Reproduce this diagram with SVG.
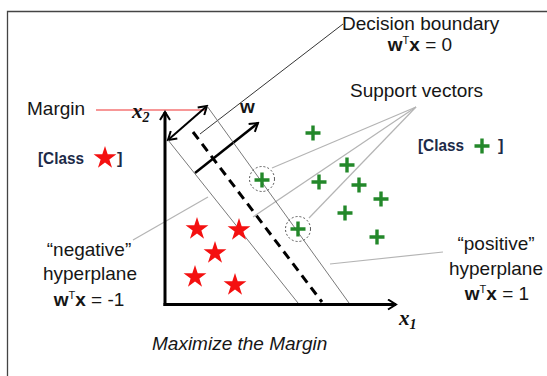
<svg xmlns="http://www.w3.org/2000/svg" width="547" height="376" viewBox="0 0 547 376">
<style>
.t{font-family:"Liberation Sans",Arial,sans-serif;font-size:19px;fill:#161616}
.b{font-weight:bold}
.sup{font-size:11px}
.cls{font-family:"Liberation Sans",Arial,sans-serif;font-size:16.5px;font-weight:bold;fill:#1c2a48}
.ax{font-family:"Liberation Serif","Times New Roman",serif;font-style:italic;font-weight:bold;fill:#111}
.lead{stroke:#b4b4b4;stroke-width:1.2;fill:none}
.hp{stroke:#6a6a6a;stroke-width:0.9;fill:none}
.plus{stroke:#23882a;stroke-width:3.4;fill:none}
.sv{stroke:#555;stroke-width:1;stroke-dasharray:2 2;fill:none}
</style>
<defs>
<path id="star" d="M0,-12 L2.7,-3.72 L11.41,-3.71 L4.37,1.42 L7.05,9.71 L0,4.6 L-7.05,9.71 L-4.37,1.42 L-11.41,-3.71 L-2.7,-3.72 Z" fill="#f41010"/>
<path id="plus" d="M-7.5,0 H7.5 M0,-7.5 V7.5" class="plus"/>
<marker id="ah" viewBox="0 0 12 12" refX="10" refY="6" markerWidth="12" markerHeight="12" markerUnits="userSpaceOnUse" orient="auto-start-reverse">
<path d="M2,1 L10,6 L2,11" fill="none" stroke="#000" stroke-width="2"/>
</marker>
</defs>
<rect width="547" height="376" fill="#fff"/>
<path d="M7.5,376 V11.5 H547" fill="none" stroke="#444" stroke-width="1.3"/>

<g id="connectors">
<line x1="96" y1="110" x2="206" y2="110" stroke="#f03030" stroke-width="1.2"/>
<line x1="343" y1="24" x2="200" y2="134" stroke="#000" stroke-width="0.8"/>
<line x1="416" y1="107" x2="272" y2="168" class="lead"/>
<line x1="416" y1="107" x2="253" y2="217" class="lead"/>
<line x1="416" y1="107" x2="309" y2="218" class="lead"/>
<line x1="133" y1="240" x2="208" y2="197" class="lead"/>
<line x1="443" y1="252" x2="330" y2="264" class="lead"/>
<line x1="168" y1="140" x2="207" y2="106" stroke="#000" stroke-width="2" marker-start="url(#ah)" marker-end="url(#ah)"/>
<line x1="195" y1="173" x2="258" y2="123" stroke="#000" stroke-width="2.5" marker-end="url(#ah)"/>
</g>

<g id="hyperplanes">
<line x1="168" y1="140" x2="298" y2="303" class="hp"/>
<line x1="207" y1="106" x2="349" y2="303" class="hp"/>
<line x1="193" y1="132" x2="322" y2="302" stroke="#000" stroke-width="3" stroke-dasharray="9 6"/>
</g>

<g id="axes">
<line x1="165" y1="306" x2="165" y2="112" stroke="#000" stroke-width="3" marker-end="url(#ah)"/>
<line x1="163.5" y1="304.5" x2="396" y2="304.5" stroke="#000" stroke-width="3" marker-end="url(#ah)"/>
<text class="ax" x="132" y="118" font-size="21">x<tspan font-size="14" dy="4">2</tspan></text>
<text class="ax" x="399" y="325" font-size="21">x<tspan font-size="14" dy="4">1</tspan></text>
<text class="t b" x="240" y="113" font-size="18">w</text>
</g>

<g id="stars">
<use href="#star" x="197" y="229"/>
<use href="#star" x="239" y="230"/>
<use href="#star" x="215" y="253"/>
<use href="#star" x="195" y="277"/>
<use href="#star" x="235" y="285"/>
</g>

<g id="pluses">
<use href="#plus" x="313" y="133"/>
<use href="#plus" x="347" y="165"/>
<use href="#plus" x="319" y="182"/>
<use href="#plus" x="359" y="185"/>
<use href="#plus" x="381" y="199"/>
<use href="#plus" x="345" y="213"/>
<use href="#plus" x="377" y="237"/>
<use href="#plus" x="262" y="180"/>
<use href="#plus" x="298" y="229"/>
</g>

<g id="support-vectors">
<circle cx="262" cy="179" r="12.5" class="sv"/>
<circle cx="298" cy="229" r="12.5" class="sv"/>
</g>

<g id="label-decision">
<text class="t" x="342" y="30">Decision boundary</text>
<text class="t" x="420" y="51" text-anchor="middle"><tspan class="b">w</tspan><tspan class="sup" dy="-7">T</tspan><tspan class="b" dy="7">x</tspan> = 0</text>
</g>

<g id="label-support">
<text class="t" x="350" y="97">Support vectors</text>
</g>

<g id="label-margin">
<text class="t" x="27" y="115">Margin</text>
</g>

<g id="legend-star">
<text class="cls" x="38" y="164" textLength="46" lengthAdjust="spacingAndGlyphs">[Class</text>
<use href="#star" x="105" y="158"/>
<text class="cls" x="117" y="164">]</text>
</g>

<g id="legend-plus">
<text class="cls" x="418" y="151" textLength="46" lengthAdjust="spacingAndGlyphs">[Class</text>
<use href="#plus" x="482" y="146"/>
<text class="cls" x="498" y="151">]</text>
</g>

<g id="label-negative">
<text class="t" x="89" y="256" text-anchor="middle">“negative”</text>
<text class="t" x="90" y="280" text-anchor="middle">hyperplane</text>
<text class="t" x="89" y="306" text-anchor="middle"><tspan class="b">w</tspan><tspan class="sup" dy="-7">T</tspan><tspan class="b" dy="7">x</tspan> = -1</text>
</g>

<g id="label-positive">
<text class="t" x="496" y="250" text-anchor="middle">“positive”</text>
<text class="t" x="496" y="275" text-anchor="middle">hyperplane</text>
<text class="t" x="497" y="300" text-anchor="middle"><tspan class="b">w</tspan><tspan class="sup" dy="-7">T</tspan><tspan class="b" dy="7">x</tspan> = 1</text>
</g>

<g id="caption">
<text class="t" x="152" y="350" font-size="17.5" font-style="italic" fill="#222">Maximize the Margin</text>
</g>
</svg>
